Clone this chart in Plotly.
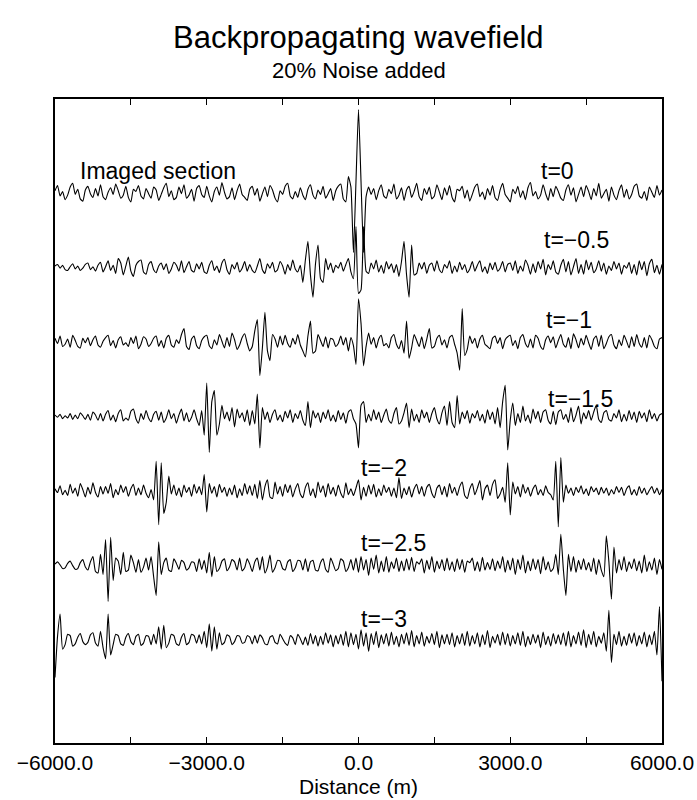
import numpy as np
import plotly.graph_objects as go

# Receiver positions along the line (m), one sample every 50 m
distance = np.linspace(-6000, 6000, 241)

# Wavefield amplitude per trace, in hundredths of the trace spacing
trace_t0 = [
    3, 10, -4, 2, -9, -3, 8, 13, -2, 5, -8, -11, 4, 9, -1, -6, 6, -4, 11, -5,
    -9, 1, 7, -2, 12, 3, -7, -3, 9, -6, -12, 5, 2, 10, -4, -8, 6, -1, -7, 8,
    4, -10, -2, 7, 13, -5, 3, -9, -6, 8, -1, 11, -7, -3, 5, -11, 6, 10, -2, -6,
    9, -4, -12, 2, 8, -3, 14, 1, -8, -5, 7, -9, 3, 12, -2, -6, -10, 5, 9, -3,
    6, -11, -1, 8, -5, 10, 4, -7, -12, 3, -2, 9, 13, -4, -8, 2, -6, 7, -3, -9,
    5, 11, -3, -8, 4, -2, 9, -7, -1, 6, -10, 3, 9, 12, -8, -12, 22, 8, -80, 15,
    112, 15, -80, -5, 8, -2, 6, -9, 3, 11, -4, -7, 5, -1, 12, -8, -3, 7, -10, 4,
    9, -6, 2, 13, -5, -10, 6, -2, 8, -8, -4, 11, 1, -9, 7, -3, 10, -6, -12, 5,
    3, 9, -7, 4, -11, -2, 8, 12, -5, 1, -9, 6, -3, 10, -6, -10, 4, 13, -2, -7,
    -12, 5, -1, 9, -6, 3, -9, 7, 14, -4, 2, -8, -3, 11, -1, -10, 6, -5, 9, 2,
    -7, -10, 4, 11, -3, 7, -12, -2, 8, -5, 10, 2, -9, 6, -4, 13, -7, -1, 5, -11,
    8, -3, -9, 3, 11, -6, 5, -8, -2, 9, 12, -4, -7, 2, -10, 8, 1, -6, 10, -3,
    4,
]
trace_t05 = [
    2, 4, -1, 3, -3, -4, 1, 5, -2, 2, -4, -1, 4, 6, -3, 1, -5, 3, 7, -6,
    1, 9, -4, 3, -8, 12, 6, -10, 2, 14, -5, -12, 3, 8, 10, -6, -9, 4, 8, -3,
    -7, 2, 6, -3, 5, -8, -2, 7, 3, -5, 9, -7, 1, 8, -4, -6, 5, -2, 7, -6,
    -8, 3, 9, -4, 2, -7, 6, 11, -3, -9, 4, -2, 7, -6, -1, 8, -5, 4, -4, -7,
    2, 12, -3, -8, 5, -1, 7, -6, -3, 8, 2, -9, 4, -4, 10, -2, -6, 3, -20, 10,
    35, -10, -40, 5, 30, -15, -20, 12, -3, 6, -7, 3, -1, 7, -5, 4, 12, -6, -15, 55,
    -35, -30, 55, -5, -8, 6, -2, 10, -6, 3, -8, 8, -2, 5, -7, 4, -12, 8, 35, -10,
    -40, 30, -10, -8, 6, -2, 7, -8, 3, 6, -5, 9, -3, -7, 4, -1, 9, -8, 2, -6,
    7, -3, 4, -7, -2, 8, -5, 3, 9, -6, 1, -8, 6, -3, 7, -5, -1, 8, -6, 4,
    6, -4, 9, -8, 2, -5, 10, 3, -9, 5, -7, 8, -2, 11, -10, 4, -3, 9, -6, -9,
    3, 11, -6, 8, -10, 1, 12, -8, 4, -9, 10, -3, 7, -7, -2, 9, -5, 6, -9, 2,
    -4, 8, -2, 6, -9, 3, -1, 7, -8, 4, -10, 9, -3, 8, -11, 5, 11, -7, 3, -9,
    4,
]
trace_t10 = [
    5, -2, 8, -6, -3, 4, -7, 9, 2, -6, -8, 5, -1, 6, -5, 3, 8, -4, -7, 1,
    6, 9, -5, 2, -8, 3, 7, -4, -1, -6, 6, -2, 8, -9, -3, 7, 4, -6, -2, 5,
    8, -6, 2, -8, 5, 9, -4, -7, 3, -2, 10, 18, -6, -10, 4, 8, -5, -9, 2, 7,
    9, -5, -9, 3, -4, 10, 1, -8, 6, -6, 12, 3, -10, -4, 6, 11, -2, -12, -6, 15,
    30, -45, -8, 40, -12, -25, 10, 4, -7, 8, -4, 9, -2, -7, 5, -3, 10, -4, -12, -20,
    8, 28, -15, -12, 10, 2, -6, 7, -8, 5, 3, -6, -2, 8, -4, 6, -12, 6, -5, -30,
    58, 25, -32, -6, 12, -3, 6, -8, 4, 9, -5, -2, -8, 6, 10, -3, -9, 2, -15, 28,
    -22, -8, 10, 2, -6, 7, -9, 4, 18, -8, -6, 5, 9, -4, 3, -8, 6, 9, -3, -15,
    -38, 45, -18, -10, 8, -2, 5, -8, 4, 9, -3, -6, -9, 5, 8, -2, 6, -9, 3, 7,
    9, -5, 2, -9, 6, 10, -2, -7, 4, -8, 9, 5, -6, -10, 3, 8, -1, 7, -8, 2,
    10, -3, -7, 6, -9, 11, 3, -8, 5, -4, 9, -1, -10, 4, 8, -6, 9, -9, -2, 7,
    10, -4, -9, 3, -5, 9, 1, -8, 7, -6, 10, -2, -7, 6, -8, 9, 3, -6, -9, 4,
    6,
]
trace_t15 = [
    2, -1, 3, -3, 1, -2, 4, -4, 2, -3, 5, 1, -4, 3, -5, 6, 2, -5, 4, -6,
    3, 8, -5, 2, -7, 4, 9, -6, -2, -5, 7, 10, -3, -9, 4, -4, 8, -2, -7, 3,
    7, -5, 6, -8, -2, 9, -3, 4, -9, 2, 10, -6, 5, -7, -1, 9, -3, -12, 8, -25,
    45, -48, 20, 35, -25, -10, 15, -3, 6, -6, 12, -14, 10, -2, 5, -7, 9, -12, 8, -10,
    30, -42, 12, -4, 6, -8, 3, 9, -5, 2, -7, 7, -2, 9, -8, 4, -3, 8, -5, -12,
    20, -15, 8, -2, 5, -8, 6, -3, 9, -6, 2, -7, 8, -4, 5, -9, 6, 9, -3, -10,
    -42, 15, 20, -8, 3, -6, 9, -4, 6, -8, 2, 10, -5, -9, 4, 12, -10, -6, 5, 18,
    -15, 10, -6, 3, -8, 9, -2, 6, -8, 4, 12, -3, -10, 5, 14, -12, 20, -8, -15, 28,
    -10, 6, -3, 8, -9, 4, -2, 8, -6, 3, -9, 9, -4, 6, -10, 12, -15, 20, 42, -45,
    -5, 18, -12, 4, -8, 14, -6, 2, -9, 10, -3, 7, -8, 6, 9, -5, -10, 7, -11, 6,
    9, -4, 3, -8, 12, -7, 2, 14, -10, 5, -3, 8, -5, 6, 15, -4, -8, 5, 8, -4,
    -6, 4, -2, 9, -7, 3, -6, 8, -4, 6, -8, 7, -2, 5, -7, 9, -3, 4, -6, 2,
    4,
]
trace_t20 = [
    3, -2, 7, -5, 1, -6, 9, -3, 4, -7, 10, 2, -8, 5, -4, 11, -2, -8, 6, -4,
    6, -3, 10, -9, 2, -5, 8, -2, 6, -7, 3, 9, -6, 4, -5, 8, -3, -9, 2, -12,
    40, -45, 38, -30, -15, 20, -4, 8, -6, 4, -8, 8, -2, 5, -7, 9, -3, 6, -5, 22,
    -28, 10, -3, 6, -8, 9, -2, 5, -7, 4, -5, 8, -9, 3, -6, 10, -4, 7, -6, 9,
    -10, 14, -12, 6, 15, -8, -10, 12, -4, 6, -7, 9, -2, 8, -8, 3, 10, -4, -9, 5,
    11, -6, 3, -9, 12, -2, 7, -8, 10, -4, 5, -7, 8, -3, -9, 11, -5, 3, -6, 4,
    15, -12, 5, -7, 8, -4, 9, -8, 3, -6, 8, -2, 5, -7, 4, -9, 18, -10, 4, -5,
    6, -8, 3, 9, -4, 6, -7, 5, 9, -3, -9, 4, 8, -5, 6, -8, 10, -3, 5, -6,
    6, 12, -6, -10, 3, 10, -5, 4, 14, -12, 3, 8, -6, 9, 15, -10, -4, 5, -15, 38,
    -32, 12, -4, 6, -8, 9, -3, 5, -7, 3, 8, -5, 2, -6, 7, -2, -5, -12, 40, -48,
    45, -15, 8, -3, 4, -6, 5, -2, 7, -4, 3, -6, 6, -1, 4, -5, 5, -3, 4, -6,
    2, -4, 6, -2, 5, -6, 3, 7, -5, 2, -6, 6, -3, 4, -5, 1, 6, -3, 4, -5,
    2,
]
trace_t25 = [
    2, 5, 1, -4, -3, 3, 6, 0, -5, -4, 4, 8, -2, -6, 5, 12, -8, -10, 15, -12,
    35, -48, 38, -20, 10, 6, -12, 18, -8, -6, 14, 4, -9, 8, -9, -2, 10, -6, 12, -15,
    -40, 32, -12, 4, 10, -6, -8, 9, 3, -5, 7, 4, -6, -3, 5, 4, -8, 9, -5, 7,
    -10, 18, -15, 12, -8, -4, 6, 9, -7, -2, 8, 5, -6, 10, -7, -3, 9, 2, -8, 5,
    10, -6, 12, -10, -2, 14, -9, -3, 7, 6, -4, -6, 5, 8, -8, -3, 7, 6, -6, 9,
    -8, 5, 7, -6, -7, 4, 9, -5, -9, 10, 2, -7, -4, 9, 6, -8, -3, 8, -6, 10,
    -9, 12, -6, 8, -13, 10, -5, 14, -10, 6, -8, 12, -9, 5, -4, 10, -8, 6, -7, 9,
    -6, 11, -8, 5, 2, 9, -10, 7, -5, 12, -9, 6, -4, 8, -7, 10, -6, 5, -8, 9,
    -5, 8, -9, 6, 4, 10, -7, 5, -8, 11, -6, 4, -5, 9, -7, 6, -4, 12, -9, 7,
    -6, 10, -12, 8, -5, 14, -10, 6, -7, 9, -5, 8, -11, 12, -6, 5, -8, -4, 15, -12,
    42, -5, -40, 15, -8, 12, -9, 7, -5, 9, -6, 4, -8, 10, -12, 8, -6, -15, 40, 5,
    -45, 25, -10, 8, -6, 12, -8, 5, -4, 9, -7, 6, -10, 14, -8, 5, -6, 10, -12, 8,
    -5,
]
trace_t30 = [
    -50, 5, 35, -12, -6, 8, 6, -8, -5, 4, 9, -2, -6, -3, 7, 10, -4, -8, 12, -10,
    -25, 35, -20, -6, 8, 6, -5, -7, 4, 9, -2, -6, 5, 8, -7, -4, 6, 5, -6, 8,
    -5, 18, -12, 20, -10, -4, 8, 6, -5, -7, 4, 9, -6, -3, 8, 6, -4, 7, -5, 12,
    -10, 22, -15, 18, -12, 10, -6, -3, 7, 5, -6, -2, 6, 5, -4, -3, 6, 4, -5, 6,
    -4, 7, 3, -5, -6, 4, 6, -3, -5, 8, 2, -4, -7, 6, 3, -6, 8, 2, -6, 4,
    -7, 9, -5, 6, -8, 5, -6, 10, -4, 7, -9, 6, -5, 8, -7, 12, -9, 10, -6, 8,
    -12, 14, -8, 10, -15, 9, -6, 12, -10, 7, -5, 9, -8, 11, -6, 5, -9, 8, -5, 10,
    -7, 13, -9, 6, -5, 11, -8, 5, -4, 9, -6, 12, -10, 7, -5, 8, -6, 10, -9, 6,
    -5, 9, -7, 12, -8, 6, -5, 10, -9, 7, -6, 13, -10, 5, -4, 8, -7, 11, -6, 9,
    -8, 6, -5, 10, -7, 12, -9, 5, -6, 8, -4, 7, -10, 11, -6, 5, -8, 9, -5, 7,
    -6, 10, -8, 12, -9, 6, -5, 11, -7, 14, -10, 8, -6, 12, -9, 5, -4, 10, -15, 40,
    -30, 8, -6, 12, -8, 5, -7, 9, -4, 10, -8, 6, -5, 11, -9, 7, -6, 12, -20, 45,
    -55,
]

traces = [trace_t0, trace_t05, trace_t10, trace_t15, trace_t20, trace_t25, trace_t30]
offsets = [0, -1, -2, -3, -4, -5, -6]

# Trace labels: text, left edge (m), height above the trace baseline
label_text = ["Imaged section", "t=0", "t=−0.5", "t=−1", "t=−1.5", "t=−2", "t=−2.5", "t=−3"]
label_x = [-5550, 3560, 3620, 3660, 3700, 0, 0, 0]
label_trace = [0, 0, 1, 2, 3, 4, 5, 6]
label_dy = [0.3, 0.29, 0.37, 0.29, 0.24, 0.31, 0.3, 0.29]

x_tickvals = [-6000, -4500, -3000, -1500, 0, 1500, 3000, 4500, 6000]
x_ticktext = ["−6000.0", "", "−3000.0", "", "0.0", "", "3000.0", "", "6000.0"]

FONT = "Liberation Sans, Arial, Helvetica, sans-serif"

fig = go.Figure()
for amp, off in zip(traces, offsets):
    y = off + np.asarray(amp, dtype=float) / 100.0
    fig.add_trace(go.Scatter(
        x=distance[:len(y)], y=y, mode="lines",
        line=dict(color="black", width=1.1, shape="spline", smoothing=0.5),
        hoverinfo="skip", showlegend=False,
    ))

annotations = []
for txt, lx, tr, dy in zip(label_text, label_x, label_trace, label_dy):
    annotations.append(dict(
        x=lx, y=offsets[tr] + dy, xref="x", yref="y", text=txt,
        showarrow=False, xanchor="left", yanchor="middle",
        font=dict(family=FONT, size=23, color="black"),
    ))

annotations += [
    dict(x=0.5, y=1.096, xref="paper", yref="paper", text="Backpropagating wavefield",
         showarrow=False, xanchor="center", yanchor="middle",
         font=dict(family=FONT, size=31, color="black")),
    dict(x=0.5, y=1.045, xref="paper", yref="paper", text="20% Noise added",
         showarrow=False, xanchor="center", yanchor="middle",
         font=dict(family=FONT, size=22, color="black")),
    dict(x=0.5, y=-0.068, xref="paper", yref="paper", text="Distance (m)",
         showarrow=False, xanchor="center", yanchor="middle",
         font=dict(family=FONT, size=21, color="black")),
]

fig.update_layout(
    width=697, height=800,
    margin=dict(l=55, r=35, t=99, b=57, autoexpand=False),
    paper_bgcolor="white", plot_bgcolor="white",
    annotations=annotations,
    showlegend=False,
    xaxis=dict(
        range=[-6000, 6000], tickmode="array", tickvals=x_tickvals, ticktext=x_ticktext,
        ticks="inside", ticklen=6, tickwidth=1, tickcolor="black",
        showline=True, linewidth=1.6, linecolor="black", mirror="ticks",
        showgrid=False, zeroline=False, automargin=False,
        ticklabeloverflow="allow",
        tickfont=dict(family=FONT, size=21, color="black"),
    ),
    yaxis=dict(
        range=[-7.38, 1.26], showline=True, linewidth=1.6, linecolor="black",
        mirror=True, showticklabels=False, ticks="", showgrid=False, zeroline=False,
        automargin=False,
    ),
)

fig.write_html("out.html")
